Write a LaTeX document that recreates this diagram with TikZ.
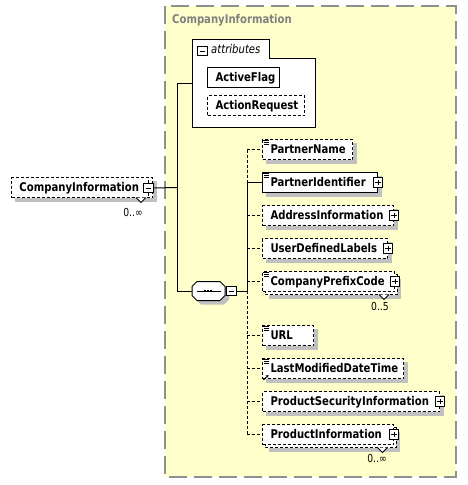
\documentclass[tikz,border=0pt]{standalone}
\usepackage{fontspec}
\setmainfont{DejaVu Sans}[FakeStretch=0.84]
\usetikzlibrary{calc,arrows.meta}
\pgfdeclarelayer{back}
\pgfdeclarelayer{shd}
\pgfsetlayers{back,shd,main}
\definecolor{bgyel}{HTML}{FFFFCC}
\definecolor{outerc}{HTML}{909090}
\definecolor{shc}{RGB}{192,192,192}
\definecolor{titlec}{HTML}{808080}
\newcommand\elbox[2]{\makebox[\dimexpr#1pt-16pt\relax][l]{#2}}
\newcommand\simpleicon[1]{\draw[line width=0.7pt] ($(#1.north west)+(1.2,1.3)$) -- ++(5.5,0) ($(#1.north west)+(2,3.3)$) -- ++(4.7,0) ($(#1.north west)+(2,5.3)$) -- ++(4.7,0);}
\newcommand\shadowof[1]{\begin{pgfonlayer}{shd}\fill[fill=shc] ($(#1.north west)+(4,4)$) rectangle ($(#1.south east)+(4,4)$);\end{pgfonlayer}}
\begin{document}
\begin{tikzpicture}[x=1pt,y=-1pt,
  el/.style={draw, fill=white, line width=1pt, anchor=west, minimum height=20pt,
    inner xsep=8pt, inner ysep=0pt, text height=8.8pt, text depth=0pt,
    font=\fontsize{12}{13}\selectfont\bfseries},
  opt/.style={dash pattern=on 3pt off 2pt},
  conn/.style={line width=1pt},
  oconn/.style={line width=1pt, dash pattern=on 3pt off 2pt},
  btn/.style={draw, fill=white, minimum width=9.5pt, minimum height=9.5pt, inner sep=0pt, line width=0.8pt},
  minusbtn/.style={btn, path picture={\draw[line width=0.8pt] ([xshift=2pt]path picture bounding box.west) -- ([xshift=-2pt]path picture bounding box.east);}},
  plusbtn/.style={btn, path picture={\draw[line width=0.8pt] ([xshift=2pt]path picture bounding box.west) -- ([xshift=-2pt]path picture bounding box.east); \draw[line width=0.8pt] ([yshift=-2pt]path picture bounding box.north) -- ([yshift=2pt]path picture bounding box.south);}},
  mult/.style={font=\fontsize{11}{12}\selectfont, inner sep=0pt, anchor=east, text height=8pt, text depth=0pt},
  notch/.style={fill=white, draw, line width=0.8pt}
]
\useasboundingbox (0,0) rectangle (467,485);

% outer complex type area
\begin{pgfonlayer}{back}
\draw[fill=bgyel, draw=outerc, line width=1.2pt, dash pattern=on 18pt off 7pt] (165,6) rectangle (456,477);
\end{pgfonlayer}
\node[anchor=west, inner sep=0pt, text=titlec, text height=8.8pt, text depth=0pt,
  font=\fontsize{12}{13}\selectfont\bfseries] (title) at (172,19.5) {CompanyInformation};

% attributes box
\draw[fill=white, line width=1pt] (192,39) -- (269,39) -- (269,58) -- (315,58) -- (315,127) -- (192,127) -- cycle;
\node[minusbtn] (attrbtn) at (202.5,51) {};
\node[anchor=west, inner sep=0pt, text height=8.8pt, text depth=0pt,
  font=\fontsize{12}{13}\selectfont\itshape] (attrlbl) at (211,49.5) {attributes};
\coordinate (attrW) at (192,83);
\node[el] (af) at (207,77.5) {\elbox{72}{ActiveFlag}};
\shadowof{af}
\node[el, opt] (ar) at (207,105.5) {\elbox{97}{ActionRequest}};
\shadowof{ar}

% top element
\node[el, opt] (ci) at (11,187.5) {\elbox{141}{CompanyInformation}};
\shadowof{ci}
\draw[notch] (136,197.5) -- (141,202.5) -- (146,197.5);
\node[minusbtn] (cibtn) at (148.3,188) {};
\draw[line width=0.8pt] (cibtn.north) -- ++(0,-3);
\draw[line width=0.8pt] (cibtn.south) -- ++(0,3);
\node[mult] (cim) at (143,212) {0..∞};

% trunk
\coordinate (jA) at (177,83);
\coordinate (jC) at (177,187.5);
\coordinate (jS) at (177,291);
\draw[conn] (cibtn.east) -- (jC);
\draw[conn] (jA) -- (jS);
\draw[conn] (jA) -- (attrW);

% sequence compositor
\fill[fill=shc] (201,285.5) -- (224,285.5) -- (229,290.5) -- (229,299.5) -- (224,304.5) -- (201,304.5) -- (196,299.5) -- (196,290.5) -- cycle;
\draw[fill=white, line width=1pt] (197,281.5) -- (220,281.5) -- (225,286.5) -- (225,295.5) -- (220,300.5) -- (197,300.5) -- (192,295.5) -- (192,286.5) -- cycle;
\node[minimum width=33pt, minimum height=19pt, inner sep=0pt] (seq) at (208.5,291) {};
\draw[line width=1pt] (197,291) -- (221,291);
\fill (203.5,289.6) rectangle (206.1,292.4);
\fill (206.6,289.6) rectangle (209.2,292.4);
\fill (209.7,289.6) rectangle (212.3,292.4);
\node[minusbtn] (seqbtn) at (231.5,291) {};
\draw[conn] (jS) -- (seq.west);
\coordinate (jR) at (247,291);
\draw[conn] (seqbtn.east) -- (jR);

% children
\node[el, opt] (c1) at (262,149.5) {\elbox{90}{PartnerName}};
\shadowof{c1}
\simpleicon{c1}
\node[el] (c2) at (262,182.5) {\elbox{115}{PartnerIdentifier}};
\shadowof{c2}
\simpleicon{c2}
\node[plusbtn] (c2b) at (c2.east) {};
\node[el, opt] (c3) at (262,215.5) {\elbox{131}{AddressInformation}};
\shadowof{c3}
\node[plusbtn] (c3b) at (c3.east) {};
\node[el, opt] (c4) at (262,248.5) {\elbox{125}{UserDefinedLabels}};
\shadowof{c4}
\node[plusbtn] (c4b) at (c4.east) {};

\fill[fill=shc] (269,278.5) rectangle (401,298.5);
\draw[fill=white, line width=1pt, opt] (265,274.5) rectangle (397,294.5);
\node[el, opt] (c5) at (262,281.5) {\elbox{132}{CompanyPrefixCode}};
\simpleicon{c5}
\node[plusbtn] (c5b) at (c5.east) {};
\draw[notch] (379,294.5) -- (384,299.5) -- (389,294.5);
\node[mult] (c5m) at (389,306) {0..5};

\node[el, opt] (c6) at (262,335.5) {\elbox{51}{URL}};
\shadowof{c6}
\simpleicon{c6}
\node[el, opt] (c7) at (262,368.5) {\elbox{141}{LastModifiedDateTime}};
\shadowof{c7}
\simpleicon{c7}
\draw[line width=0.9pt, -{Stealth[length=2.6pt,width=3pt]}] ($(c7.south west)+(1.5,1)$) -- ++(5,-5);
\node[el, opt] (c8) at (262,401.5) {\elbox{177}{ProductSecurityInformation}};
\shadowof{c8}
\node[plusbtn] (c8b) at (c8.east) {};

\fill[fill=shc] (269,431.5) rectangle (400,451.5);
\draw[fill=white, line width=1pt, opt] (265,427.5) rectangle (396,447.5);
\node[el, opt] (c9) at (262,434.5) {\elbox{131}{ProductInformation}};
\node[plusbtn] (c9b) at (c9.east) {};
\draw[notch] (377.5,447.5) -- (382.5,452.5) -- (387.5,447.5);
\node[mult] (c9m) at (387,458) {0..∞};

% connectors to children
\draw[oconn] (c1.west -| jR) -- (c2.west -| jR);
\draw[conn] (c2.west -| jR) -- (jR);
\draw[oconn] (jR) -- (c9.west -| jR);
\draw[oconn] (c1.west -| jR) -- (c1.west);
\draw[conn] (c2.west -| jR) -- (c2.west);
\draw[oconn] (c3.west -| jR) -- (c3.west);
\draw[oconn] (c4.west -| jR) -- (c4.west);
\draw[oconn] (c5.west -| jR) -- (c5.west);
\draw[oconn] (c6.west -| jR) -- (c6.west);
\draw[oconn] (c7.west -| jR) -- (c7.west);
\draw[oconn] (c8.west -| jR) -- (c8.west);
\draw[oconn] (c9.west -| jR) -- (c9.west);
\end{tikzpicture}
\end{document}
